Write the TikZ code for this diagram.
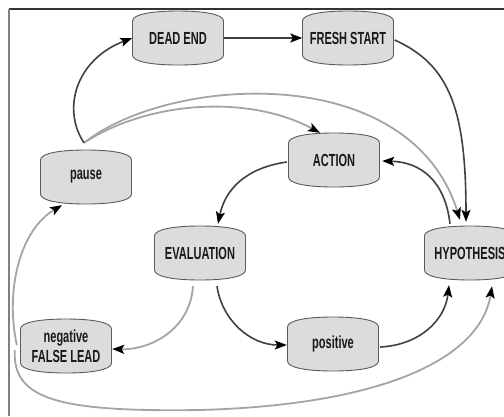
\documentclass[tikz,border=0pt]{standalone}
\usepackage{fontspec}
\usetikzlibrary{arrows.meta,calc}
\newfontfamily\lblfont[FakeStretch=0.63]{Liberation Sans}
\definecolor{drumfill}{HTML}{DCDCDC}
\definecolor{drumline}{HTML}{5A5A5A}
\definecolor{darkedge}{HTML}{404040}
\definecolor{lightedge}{HTML}{A4A4A4}
\tikzset{
  drumshape/.style={fill=drumfill, draw=drumline, line width=0.9pt},
  lbl/.style={minimum width=91pt, minimum height=54pt, inner sep=0pt, align=center,
    font=\lblfont\bfseries\fontsize{17.5}{19.5}\selectfont, text=black!90},
  tip/.style={-{Stealth[length=12pt,width=9pt,inset=2.5pt,color=black]}},
  darkflow/.style={tip, draw=darkedge, line width=1.6pt},
  lightflow/.style={tip, draw=lightedge, line width=1.8pt},
}
% drum-shaped state: name, x, y, label
\newcommand\drumnode[4]{%
  \begin{scope}[shift={(#2,#3)}]
    \path[drumshape] (-45.5,-17) .. controls (-45.5,-24) and (-25,-27) .. (0,-27)
      .. controls (25,-27) and (45.5,-24) .. (45.5,-17) -- (45.5,17)
      .. controls (45.5,24) and (25,27) .. (0,27)
      .. controls (-25,27) and (-45.5,24) .. (-45.5,17) -- cycle;
  \end{scope}
  \node[lbl] (#1) at (#2,#3) {#4};
}
\begin{document}
\begin{tikzpicture}[x=1pt,y=-1pt]
\useasboundingbox (0,0) rectangle (504,416);
% frame edges
\draw[draw=black!80, line width=1.4pt] (9,9) -- (504,9);
\draw[draw=black!50, line width=1.4pt] (9,9) -- (9,416);

\drumnode{deadend}{178}{38}{DEAD END}
\drumnode{fresh}{348}{38}{FRESH START}
\drumnode{pause}{86}{177}{pause}
\drumnode{action}{334}{160}{ACTION}
\drumnode{eval}{200}{253}{EVALUATION}
\drumnode{neg}{66}{346}{negative\\FALSE LEAD}
\drumnode{positive}{333}{344}{positive}
\drumnode{hyp}{470}{253}{HYPOTHESIS}

% light connectors
\draw[lightflow] ($(pause.north)+(-2,-7)$) .. controls (150,100) and (250,95) .. ($(action.north)+(-14,0)$);
\draw[lightflow] ($(pause.north)+(-2,-7)$) .. controls (170,75) and (410,60) .. ($(hyp.north)+(-10,-6)$);
\draw[lightflow] ($(eval.south)+(-7,6)$) .. controls (190,330) and (150,350) .. ($(neg.east)+(0.5,3)$);
\draw[lightflow] ($(neg.west)+(-3.5,-1)$) .. controls (5,290) and (20,230) .. ($(pause.south)+(-24,1)$);
\draw[lightflow] ($(neg.west)+(-5.5,4)$) .. controls (12,400) and (60,412) .. (200,410)
  .. controls (380,405) and (480,360) .. ($(hyp.south)+(22,6)$);

% dark connectors
\draw[darkflow] ($(pause.north)+(-2,-7)$) .. controls (62,110) and (75,60) .. (deadend.west);
\draw[darkflow] (deadend.east) -- (fresh.west);
\draw[darkflow] ($(fresh.east)+(1,2)$) .. controls (450,65) and (466,110) .. ($(hyp.north)+(-4,-4)$);
\draw[darkflow] ($(hyp.north)+(-20,-2)$) .. controls (445,180) and (420,162) .. ($(action.east)+(2.5,1)$);
\draw[darkflow] ($(action.west)+(-1.5,2)$) .. controls (245,168) and (225,190) .. ($(eval.north)+(18,-2)$);
\draw[darkflow] ($(eval.south)+(17,6)$) .. controls (222,320) and (250,345) .. ($(positive.west)+(-0.5,1)$);
\draw[darkflow] ($(positive.east)+(1.5,3)$) .. controls (420,345) and (445,320) .. ($(hyp.south)+(-21,5)$);
\end{tikzpicture}
\end{document}
